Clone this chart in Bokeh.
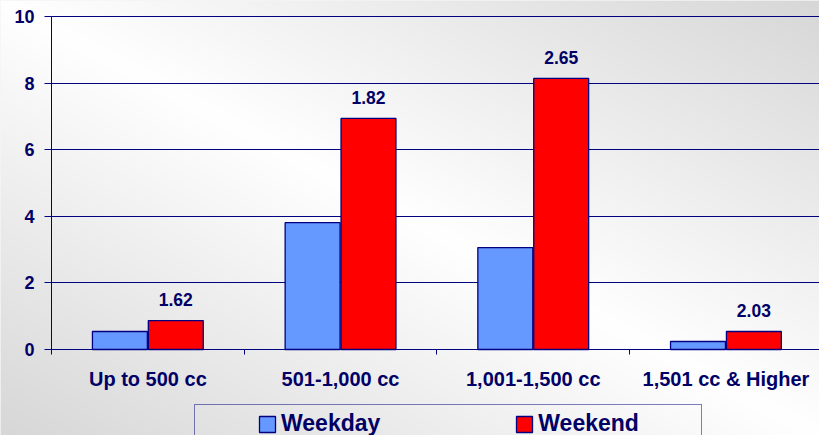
from bokeh.plotting import figure
from bokeh.models import Range1d, FixedTicker, Legend, LegendItem, ColumnDataSource
from bokeh.core.properties import value
from bokeh.embed import file_html
from bokeh.resources import INLINE
import numpy as np

categories = ["Up to 500 cc", "501-1,000 cc", "1,001-1,500 cc", "1,501 cc & Higher"]
weekday = [0.54, 3.81, 3.06, 0.24]
weekend = [0.87, 6.94, 8.14, 0.54]
ratio_labels = ["1.62", "1.82", "2.65", "2.03"]
y_ticks = [0, 2, 4, 6, 8, 10]

NAVY = "#000080"
TEXT = "#000066"
BG = "#ececec"
FONT = "Liberation Sans"

W, H = 819, 435
PX_X, X0 = 192.7, 51      # pixels per category, pixel of x = 0
PX_Y, Y0 = 33.3, 349      # pixels per unit, pixel of y = 0
x_start, x_end = -X0 / PX_X, (W - X0) / PX_X
y_start, y_end = -(H - Y0) / PX_Y, Y0 / PX_Y

centers = np.arange(len(categories)) + 0.5
src = ColumnDataSource(dict(
    x_wd=centers - 0.145, x_we=centers + 0.145,
    weekday=weekday, weekend=weekend, lab=ratio_labels,
))

# the frame covers the whole canvas; axes sit at fixed data locations
p = figure(width=W, height=H, output_backend="svg", toolbar_location=None,
           x_range=Range1d(x_start, x_end), y_range=Range1d(y_start, y_end),
           min_border_left=0, min_border_right=0, min_border_top=0, min_border_bottom=0,
           background_fill_color=BG, border_fill_color=BG, outline_line_color=None)

# soft diagonal background shading (white along the main diagonal, grey corners)
u = np.linspace(0, 1, W)[None, :]
v = np.linspace(1, 0, H)[:, None]          # row 0 is the bottom row
t = np.abs(u - v)
g = np.clip(255 - 40 * t, 0, 255).astype(np.uint8)
bg = np.zeros((H, W), dtype=np.uint32)
view = bg.view(dtype=np.uint8).reshape((H, W, 4))
view[:, :, 0] = g
view[:, :, 1] = g
view[:, :, 2] = g
view[:, :, 3] = 255
p.image_rgba(image=[bg], x=x_start, y=y_start, dw=x_end - x_start, dh=y_end - y_start,
             level="image")

r1 = p.vbar(x="x_wd", top="weekday", width=0.285, source=src,
            fill_color="#6699ff", line_color=NAVY, line_width=1.3)
r2 = p.vbar(x="x_we", top="weekend", width=0.285, source=src,
            fill_color="#ff0000", line_color=NAVY, line_width=1.3)

p.text(x="x_we", y="weekend", text="lab", source=src,
       text_font=value(FONT), text_font_style="bold", text_font_size="17.5px",
       text_color=TEXT, text_align="center", text_baseline="alphabetic", y_offset=-21)

# grid
p.xgrid.visible = False
p.ygrid.grid_line_color = NAVY
p.ygrid.grid_line_width = 1
p.ygrid.ticker = FixedTicker(ticks=y_ticks)
try:
    p.ygrid.cross_bounds = (0, x_end)
except Exception:
    pass

# x axis at y = 0
xa = p.xaxis[0]
xa.fixed_location = 0
xa.bounds = (0, x_end)
xa.ticker = FixedTicker(ticks=list(centers), minor_ticks=list(range(len(categories) + 1)))
xa.major_label_overrides = {float(c): lab for c, lab in zip(centers, categories)}
xa.major_tick_out = 0
xa.major_tick_in = 0
xa.minor_tick_out = 5
xa.minor_tick_in = 0
xa.minor_tick_line_color = NAVY
xa.axis_line_color = NAVY
xa.major_label_standoff = 13
xa.major_label_text_font = FONT
xa.major_label_text_font_style = "bold"
xa.major_label_text_font_size = "20px"
xa.major_label_text_color = TEXT

# y axis at x = 0
ya = p.yaxis[0]
ya.fixed_location = 0
ya.bounds = (0, 10)
ya.ticker = FixedTicker(ticks=y_ticks)
ya.major_tick_out = 7
ya.major_tick_in = 0
ya.minor_tick_line_color = None
ya.major_tick_line_color = NAVY
ya.axis_line_color = NAVY
ya.major_label_standoff = 10
ya.major_label_text_font = FONT
ya.major_label_text_font_style = "bold"
ya.major_label_text_font_size = "18px"
ya.major_label_text_color = TEXT

legend = Legend(items=[LegendItem(label="Weekday", renderers=[r1]),
                       LegendItem(label="Weekend", renderers=[r2])],
                orientation="horizontal", location=(194, -8), margin=0,
                glyph_width=20, glyph_height=20, label_standoff=4, spacing=134,
                label_text_font=FONT, label_text_font_style="bold",
                label_text_font_size="23px", label_text_color=TEXT,
                border_line_color=NAVY, border_line_width=1,
                background_fill_alpha=0)
try:
    legend.padding = (62, 5)
except Exception:
    legend.padding = 5
p.add_layout(legend, "center")

open("out.html", "w").write(file_html(p, INLINE))
